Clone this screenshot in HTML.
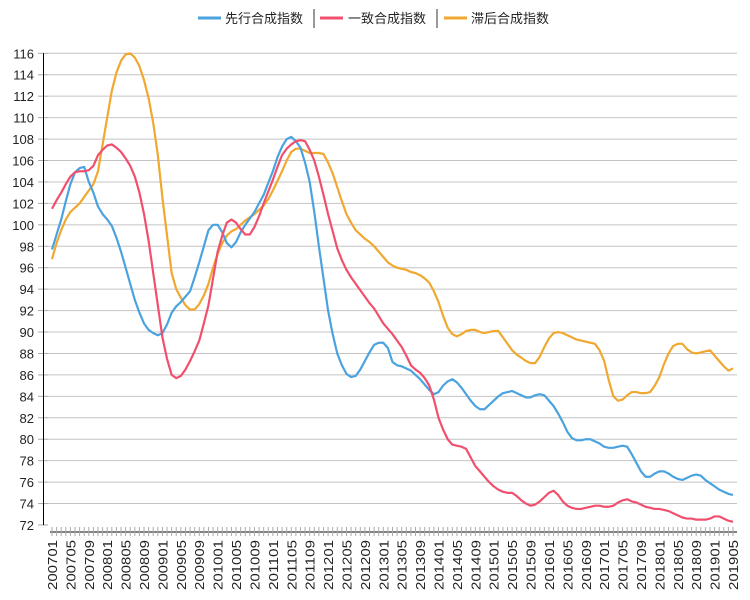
<!DOCTYPE html>
<html><head><meta charset="utf-8"><style>
body{margin:0;background:#fff;}
svg{display:block;font-family:"Liberation Sans","Noto Sans CJK SC",sans-serif;}
</style></head><body>
<svg id="chart" width="750" height="600" viewBox="0 0 750 600" xmlns="http://www.w3.org/2000/svg">
<g id="grid"></g>
<g id="yaxis"></g>
<g id="xaxis"></g>
<g id="series"></g>
<g id="legend">
 <g>
  <line x1="198" y1="18" x2="221" y2="18" stroke="#4aa3df" stroke-width="3"/>
  <text x="225" y="23" font-size="13" fill="#222">先行合成指数</text>
 </g>
 <line x1="314" y1="9" x2="314" y2="28" stroke="#333" stroke-width="1"/>
 <g>
  <line x1="320" y1="18" x2="343" y2="18" stroke="#f0506e" stroke-width="3"/>
  <text x="348" y="23" font-size="13" fill="#222">一致合成指数</text>
 </g>
 <line x1="437" y1="9" x2="437" y2="28" stroke="#333" stroke-width="1"/>
 <g>
  <line x1="444" y1="18" x2="467" y2="18" stroke="#f0a830" stroke-width="3"/>
  <text x="471" y="23" font-size="13" fill="#222">滞后合成指数</text>
 </g>
</g>
</svg>
<script>
const leading = [97.7,99.1,100.5,102.2,103.8,104.9,105.3,105.4,104.0,103.0,
101.7,101.0,100.5,99.9,98.8,97.5,96.0,94.5,93.0,91.8,
90.8,90.2,89.9,89.7,89.9,90.7,91.8,92.4,92.8,93.3,
93.8,95.1,96.5,98.0,99.5,100.0,100.0,99.3,98.3,97.9,
98.4,99.3,100.0,100.6,101.2,102.0,102.8,103.9,105.0,106.3,
107.3,108.0,108.2,107.8,107.2,105.8,104.0,101.2,98.0,95.0,
92.0,89.8,88.0,86.9,86.1,85.8,85.9,86.5,87.3,88.1,
88.8,89.0,89.0,88.5,87.2,86.9,86.8,86.6,86.4,86.0,
85.6,85.1,84.6,84.2,84.4,85.0,85.4,85.6,85.3,84.8,
84.2,83.6,83.1,82.8,82.8,83.2,83.6,84.0,84.3,84.4,
84.5,84.3,84.1,83.9,83.9,84.1,84.2,84.1,83.6,83.1,
82.4,81.6,80.7,80.1,79.9,79.9,80.0,80.0,79.8,79.6,
79.3,79.2,79.2,79.3,79.4,79.3,78.6,77.8,77.0,76.5,
76.5,76.8,77.0,77.0,76.8,76.5,76.3,76.2,76.4,76.6,
76.7,76.6,76.2,75.9,75.6,75.3,75.1,74.9,74.8];
const coincident = [101.5,102.3,103.0,103.8,104.5,104.9,105.0,105.0,105.1,105.5,
106.5,107.0,107.4,107.5,107.2,106.8,106.2,105.5,104.5,103.0,
101.0,98.5,95.5,92.5,89.5,87.5,86.0,85.7,85.9,86.5,
87.3,88.2,89.2,90.8,92.5,95.0,97.5,99.0,100.2,100.5,
100.2,99.6,99.1,99.1,99.8,100.8,102.0,103.1,104.2,105.4,
106.5,107.1,107.5,107.8,107.9,107.8,107.0,106.0,104.5,102.8,
101.0,99.4,97.8,96.7,95.8,95.1,94.5,93.9,93.3,92.7,
92.2,91.5,90.8,90.3,89.8,89.2,88.6,87.8,86.9,86.5,
86.2,85.7,85.0,83.7,82.0,80.9,80.0,79.5,79.4,79.3,
79.1,78.3,77.5,77.0,76.5,76.0,75.6,75.3,75.1,75.0,
75.0,74.7,74.3,74.0,73.8,73.9,74.2,74.6,75.0,75.2,
74.8,74.2,73.8,73.6,73.5,73.5,73.6,73.7,73.8,73.8,
73.7,73.7,73.8,74.1,74.3,74.4,74.2,74.1,73.9,73.7,
73.6,73.5,73.5,73.4,73.3,73.1,72.9,72.7,72.6,72.6,
72.5,72.5,72.5,72.6,72.8,72.8,72.6,72.4,72.3];
const lagging = [96.8,98.3,99.5,100.5,101.2,101.6,102.0,102.6,103.2,103.8,
105.0,107.5,110.0,112.5,114.2,115.3,115.9,116.0,115.6,114.8,
113.5,111.8,109.5,106.5,102.5,99.0,95.5,94.0,93.2,92.5,
92.1,92.1,92.6,93.4,94.5,96.0,97.3,98.3,99.0,99.4,
99.6,100.0,100.4,100.7,101.0,101.4,101.8,102.4,103.2,104.1,
105.0,106.0,106.8,107.1,107.1,106.9,106.7,106.7,106.7,106.6,
105.8,104.8,103.5,102.2,101.0,100.2,99.5,99.1,98.7,98.4,
98.0,97.5,97.0,96.5,96.2,96.0,95.9,95.8,95.6,95.5,
95.3,95.0,94.6,93.8,92.8,91.5,90.4,89.8,89.6,89.8,
90.1,90.2,90.2,90.0,89.9,90.0,90.1,90.1,89.5,88.9,
88.3,87.9,87.6,87.3,87.1,87.1,87.7,88.6,89.4,89.9,
90.0,89.9,89.7,89.5,89.3,89.2,89.1,89.0,88.9,88.3,
87.3,85.5,84.0,83.6,83.7,84.1,84.4,84.4,84.3,84.3,
84.4,85.0,85.8,87.0,88.0,88.7,88.9,88.9,88.4,88.1,
88.0,88.1,88.2,88.3,87.8,87.3,86.8,86.4,86.6];
const yTicks = [72,74,76,78,80,82,84,86,88,90,92,94,96,98,100,102,104,106,108,110,112,114,116];
const startYear = 2007, startMonth = 1;

const NS = "http://www.w3.org/2000/svg";
const N = leading.length;
const categories = [];
for (let i = 0; i < N; i++) {
  const m = startMonth - 1 + i;
  const yr = startYear + Math.floor(m / 12);
  const mo = (m % 12) + 1;
  categories.push(yr + String(mo).padStart(2, "0"));
}
const X0 = 52, X1 = 733, Y0 = 525, Y1 = 53.3, VMIN = 72, VMAX = 116;
function xScale(i){ return X0 + i * (X1 - X0) / (N - 1); }
function yScale(v){ return Y0 - (v - VMIN) * (Y0 - Y1) / (VMAX - VMIN); }
function mk(tag, attrs, parent){ const e = document.createElementNS(NS, tag); for (const k in attrs) e.setAttribute(k, attrs[k]); parent.appendChild(e); return e; }

const grid = document.getElementById("grid"), yaxis = document.getElementById("yaxis"), xaxis = document.getElementById("xaxis"), series = document.getElementById("series");
yTicks.forEach(t => {
  const y = yScale(t);
  if (t > VMIN) {
    const g = mk("line", {x1: 48, x2: 737, y1: y, y2: y, stroke: "#c4c4c4", "stroke-width": 1}, grid);
    
    
  }
  const tk = mk("line", {x1: 38, x2: 48, y1: y, y2: y, stroke: "#aaa", "stroke-width": 1}, yaxis);
  
  
  const lb = mk("text", {x: 34, y: y + 5, "text-anchor": "end", "font-size": 13, fill: "#222"}, yaxis);
  
  
  lb.textContent = t;
});
const yl = mk("line", {x1: 43.5, x2: 43.5, y1: Y1, y2: Y0, stroke: "#000", "stroke-width": 1}, yaxis);



const xl = mk("line", {x1: 50, x2: 737, y1: 532, y2: 532, stroke: "#000", "stroke-width": 1}, xaxis);


categories.forEach((c, i) => {
  const x = xScale(i);
  const tk = mk("line", {x1: x, x2: x, y1: 527, y2: 536, stroke: "#aaa", "stroke-width": 1}, xaxis);
  
  
  if (i % 4 === 0) {
    const lb = mk("text", {x: 0, y: 0, "text-anchor": "end", "font-size": 13, fill: "#222", transform: `translate(${x + 5},540) rotate(-90)`, textLength: 50, lengthAdjust: "spacingAndGlyphs"}, xaxis);
    
    
    lb.textContent = c;
  }
});

function drawLine(vals, color, name){
  const d = vals.map((v, i) => (i ? "L" : "M") + xScale(i).toFixed(2) + " " + yScale(v).toFixed(2)).join(" ");
  const p = mk("path", {d: d, fill: "none", stroke: color, "stroke-width": 2.2, "stroke-linejoin": "round"}, series);
  
  
}
drawLine(lagging, "#f0a830", "lagging-index-line");
drawLine(leading, "#4aa3df", "leading-index-line");
drawLine(coincident, "#f0506e", "coincident-index-line");
</script>
</body></html>
